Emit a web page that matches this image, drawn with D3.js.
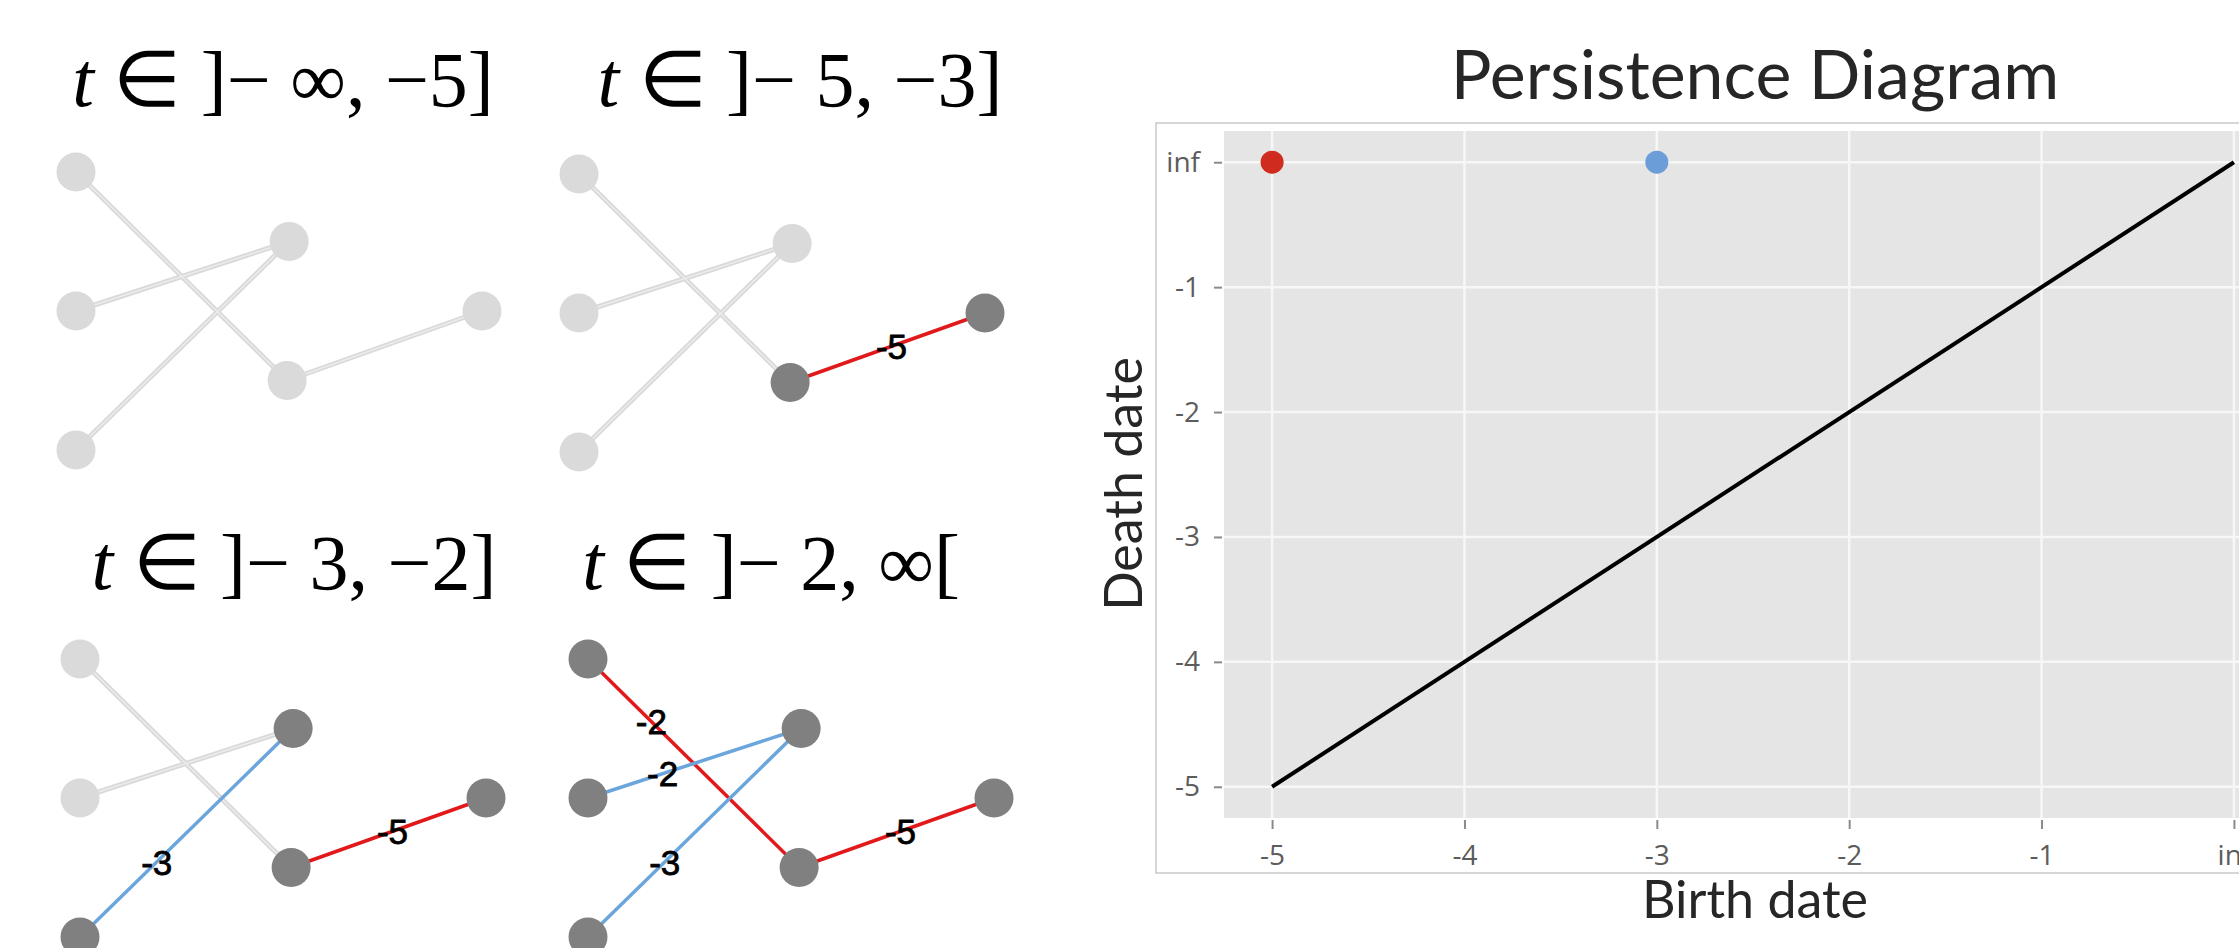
<!DOCTYPE html>
<html>
<head>
<meta charset="utf-8">
<script src="https://cdn.jsdelivr.net/npm/d3@7"></script>
<style>
  body { margin: 0; background: #fff; }
  svg { display: block; }
</style>
</head>
<body>
<svg width="2239" height="948"></svg>
<script>
// graph: six vertices, position in layout units
const nodeIds = ['A', 'B', 'C', 'D', 'E', 'F'];
const nodeX = [0, 0, 0, 1.05, 1.04, 2];
const nodeY = [0, 1, 2, 0.5, 1.5, 1];

// edges with their filtration value
const edgeSource = ['A', 'B', 'C', 'E'];
const edgeTarget = ['E', 'D', 'D', 'F'];
const edgeWeight = [-2, -2, -3, -5];
const edgeClass = [0, 1, 1, 0]; // index of the diagram point the edge belongs to

// filtration steps (one small drawing each)
const stepIntervals = ['\u005D\u2212 \u221E, \u22125\u005D', '\u005D\u2212 5, \u22123\u005D', '\u005D\u2212 3, \u22122\u005D', '\u005D\u2212 2, \u221E\u005B'];
const stepLower = [-Infinity, -5, -3, -2];

// persistence diagram
const pointBirth = [-5, -3];
const pointDeath = [Infinity, Infinity];
const tickValues = [-5, -4, -3, -2, -1, Infinity];
const tickLabels = ['-5', '-4', '-3', '-2', '-1', 'inf'];
const diagonalEnds = [-5, Infinity];

const svg = d3.select('svg');

// ---------- small graph drawings ----------
const panels = [
  { ax: 76, ay: 172, tx: 283, ty: 106 },
  { ax: 579, ay: 174, tx: 800, ty: 106 },
  { ax: 80, ay: 659, tx: 294, ty: 589 },
  { ax: 588, ay: 659, tx: 771, ty: 589 }
];
const labelFrac = [0.3, 0.35, 0.36, 0.52];

const edgeColor = d3.scaleOrdinal().domain([0, 1]).range(['#e2191b', '#6aa6dc']);
const idx = id => nodeIds.indexOf(id);

// a vertex appears with its first edge
const nodeBirth = nodeIds.map(id => d3.min(edgeWeight.filter((w, i) => edgeSource[i] === id || edgeTarget[i] === id)));

const edges = edgeWeight.map((w, i) => ({ s: idx(edgeSource[i]), t: idx(edgeTarget[i]), w: w, c: edgeClass[i], f: labelFrac[i] }));

panels.forEach((p, k) => {
  const lower = stepLower[k];
  const px = d3.scaleLinear().domain([0, 2]).range([p.ax, p.ax + 406]);
  const py = d3.scaleLinear().domain([0, 2]).range([p.ay, p.ay + 278]);
  const g = svg.append('g').attr('class', 'step');

  const title = g.append('text')
    .attr('x', p.tx)
    .attr('y', p.ty)
    .attr('text-anchor', 'middle')
    .style('font', '78px "Liberation Serif", serif')
    .style('fill', '#000');
  title.append('tspan').style('font-style', 'italic').text('t');
  title.append('tspan').text(' \u2208 ' + stepIntervals[k]);

  const on = e => e.w <= lower;

  // inactive edges: pale double stroke
  const off = edges.filter(e => !on(e));
  g.selectAll('.edge-off').data(off).enter().append('line')
    .attr('class', 'edge-off')
    .attr('x1', e => px(nodeX[e.s])).attr('y1', e => py(nodeY[e.s]))
    .attr('x2', e => px(nodeX[e.t])).attr('y2', e => py(nodeY[e.t]))
    .style('stroke', '#d9d9d9').style('stroke-width', 5);
  g.selectAll('.edge-off-in').data(off).enter().append('line')
    .attr('class', 'edge-off-in')
    .attr('x1', e => px(nodeX[e.s])).attr('y1', e => py(nodeY[e.s]))
    .attr('x2', e => px(nodeX[e.t])).attr('y2', e => py(nodeY[e.t]))
    .style('stroke', '#ececec').style('stroke-width', 1.5);

  const act = edges.filter(on);
  g.selectAll('.edge-on').data(act).enter().append('line')
    .attr('class', 'edge-on')
    .attr('x1', e => px(nodeX[e.s])).attr('y1', e => py(nodeY[e.s]))
    .attr('x2', e => px(nodeX[e.t])).attr('y2', e => py(nodeY[e.t]))
    .style('stroke', e => edgeColor(e.c)).style('stroke-width', 3.5);

  g.selectAll('.node').data(nodeIds).enter().append('circle')
    .attr('class', 'node')
    .attr('cx', (d, i) => px(nodeX[i]))
    .attr('cy', (d, i) => py(nodeY[i]))
    .attr('r', 19.5)
    .style('fill', (d, i) => nodeBirth[i] <= lower ? '#808080' : '#dadada');

  g.selectAll('.elabel').data(act).enter().append('text')
    .attr('class', 'elabel')
    .attr('x', e => px(nodeX[e.s] + (nodeX[e.t] - nodeX[e.s]) * e.f))
    .attr('y', e => py(nodeY[e.s] + (nodeY[e.t] - nodeY[e.s]) * e.f))
    .attr('text-anchor', 'middle')
    .attr('dy', '0.36em')
    .style('font', '35px "Liberation Sans", Arial, sans-serif')
    .style('fill', '#000')
    .style('stroke', '#000')
    .style('stroke-width', 0.8)
    .text(e => e.w);
});

// ---------- persistence diagram ----------
const fin = v => v === Infinity ? 0 : v; // "inf" sits one step right of -1
const x = d3.scaleLinear().domain([-5.25, 0.25]).range([1224, 2282]);
const y = d3.scaleLinear().domain([-5.25, 0.25]).range([818, 131]);

svg.append('rect')
  .attr('x', 1156).attr('y', 123)
  .attr('width', 1200).attr('height', 750)
  .style('fill', 'none').style('stroke', '#c9c9c9').style('stroke-width', 1.5);

const pd = svg.append('g').attr('class', 'diagram');

pd.append('rect')
  .attr('x', x(-5.25)).attr('y', y(0.25))
  .attr('width', x(0.25) - x(-5.25)).attr('height', y(-5.25) - y(0.25))
  .style('fill', '#e5e5e5');

pd.selectAll('.vgrid').data(tickValues).enter().append('line')
  .attr('class', 'vgrid')
  .attr('x1', d => x(fin(d))).attr('x2', d => x(fin(d)))
  .attr('y1', y(0.25)).attr('y2', y(-5.25))
  .style('stroke', '#f7f7f7').style('stroke-width', 2.5);

pd.selectAll('.hgrid').data(tickValues).enter().append('line')
  .attr('class', 'hgrid')
  .attr('y1', d => y(fin(d))).attr('y2', d => y(fin(d)))
  .attr('x1', x(-5.25)).attr('x2', x(0.25))
  .style('stroke', '#f7f7f7').style('stroke-width', 2.5);

const xAxis = pd.append('g')
  .attr('transform', 'translate(0,820)')
  .call(d3.axisBottom(x).tickValues(tickValues.map(fin)).tickFormat((d, i) => tickLabels[i]).tickSize(9).tickPadding(16));

const yAxis = pd.append('g')
  .attr('transform', 'translate(1222,0)')
  .call(d3.axisLeft(y).tickValues(tickValues.map(fin)).tickFormat((d, i) => tickLabels[i]).tickSize(8).tickPadding(14));

[xAxis, yAxis].forEach(a => {
  a.select('.domain').remove();
  a.selectAll('.tick line').style('stroke', '#8a8a8a').style('stroke-width', 2);
  a.selectAll('.tick text').style('font', '28px "Open Sans", sans-serif').style('fill', '#5c5c5c');
});

pd.append('line')
  .attr('x1', x(fin(diagonalEnds[0]))).attr('y1', y(fin(diagonalEnds[0])))
  .attr('x2', x(fin(diagonalEnds[1]))).attr('y2', y(fin(diagonalEnds[1])))
  .style('stroke', '#000').style('stroke-width', 4);

const pointColor = d3.scaleOrdinal().domain([0, 1]).range(['#cf2b1f', '#6b9dd8']);
pd.selectAll('.pt').data(pointBirth).enter().append('circle')
  .attr('class', 'pt')
  .attr('cx', d => x(fin(d)))
  .attr('cy', (d, i) => y(fin(pointDeath[i])))
  .attr('r', 11.5)
  .style('fill', (d, i) => pointColor(i));

svg.append('text')
  .attr('x', 1755).attr('y', 99)
  .attr('text-anchor', 'middle')
  .style('font', '68px Lato, sans-serif')
  .style('fill', '#262626')
  .text('Persistence Diagram');

svg.append('text')
  .attr('x', 1755).attr('y', 918)
  .attr('text-anchor', 'middle')
  .style('font', '52px Lato, sans-serif')
  .style('fill', '#262626')
  .text('Birth date');

svg.append('text')
  .attr('transform', 'translate(1142,484) rotate(-90)')
  .attr('text-anchor', 'middle')
  .style('font', '52px Lato, sans-serif')
  .style('fill', '#262626')
  .text('Death date');
</script>
</body>
</html>
